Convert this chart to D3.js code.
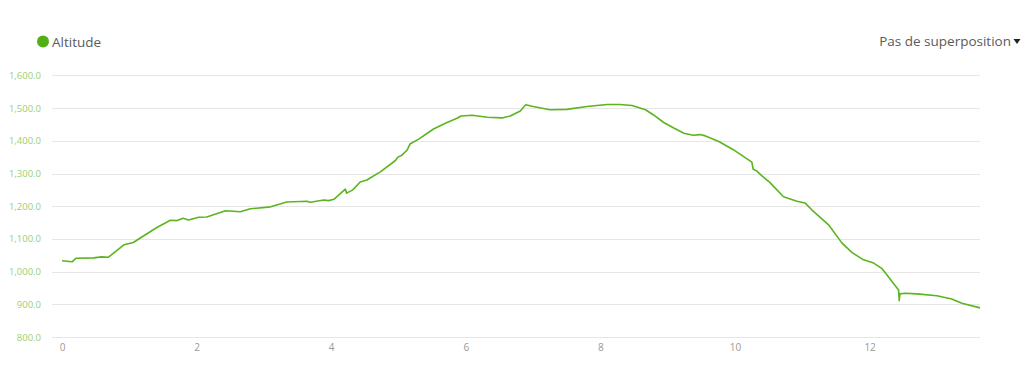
<!DOCTYPE html>
<html>
<head>
<meta charset="utf-8">
<script src="https://cdn.jsdelivr.net/npm/d3@7"></script>
<style>
  body { margin: 0; background: #fff; font-family: "Open Sans", sans-serif; }
  .grid line { stroke: #e6e6e6; stroke-width: 1px; }
  .axis text { font-family: "Open Sans", sans-serif; }
</style>
</head>
<body>
<script>
// distance (km) and altitude (m)
var distance = [0, 0.15, 0.21, 0.47, 0.59, 0.69, 0.92, 1.06, 1.21, 1.41, 1.61, 1.71, 1.80, 1.88, 2.03, 2.15,
  2.43, 2.65, 2.80, 3.10, 3.34, 3.64, 3.69, 3.89, 3.96, 4.04, 4.21, 4.23, 4.32, 4.43, 4.53, 4.73,
  4.95, 4.99, 5.05, 5.13, 5.17, 5.30, 5.52, 5.72, 5.87, 5.93, 6.09, 6.32, 6.54, 6.66, 6.81, 6.89,
  7.00, 7.25, 7.50, 7.80, 8.10, 8.29, 8.47, 8.67, 8.79, 8.94, 9.09, 9.24, 9.38, 9.48, 9.56, 9.76,
  9.98, 10.25, 10.27, 10.32, 10.40, 10.52, 10.72, 10.92, 11.04, 11.14, 11.39, 11.59, 11.74, 11.91,
  12.06, 12.18, 12.43, 12.44, 12.45, 12.53, 12.70, 13.00, 13.22, 13.37, 13.64];
var altitude = [1033, 1030, 1041, 1042, 1045, 1044, 1082, 1089, 1109, 1135, 1157, 1156, 1163, 1158, 1166, 1167,
  1186, 1183, 1192, 1198, 1213, 1215, 1212, 1219, 1217, 1221, 1252, 1240, 1250, 1274, 1280, 1305,
  1339, 1350, 1356, 1372, 1390, 1405, 1436, 1456, 1469, 1476, 1478, 1472, 1470, 1476, 1491, 1510,
  1505, 1495, 1496, 1505, 1511, 1511, 1508, 1495, 1479, 1456, 1439, 1423, 1417, 1419, 1415, 1398,
  1372, 1335, 1313, 1308, 1293, 1272, 1229, 1215, 1210, 1189, 1143, 1087, 1058, 1036,
  1026, 1010, 944, 911, 932, 934, 932, 926, 916, 903, 889];

var yTicks = [800, 900, 1000, 1100, 1200, 1300, 1400, 1500, 1600];
var xTicks = [0, 2, 4, 6, 8, 10, 12];
var seriesName = 'Altitude';
var overlayLabel = 'Pas de superposition';
var lineColor = '#5cb41f';

var width = 1024, height = 372;

var data = distance.map(function(d, i) { return { km: d, alt: altitude[i] }; });

var x = d3.scaleLinear()
  .domain([0, 13.64])
  .range([62, 980]);

var y = d3.scaleLinear()
  .domain([800, 1600])
  .range([337, 75.4]);

var line = d3.line()
  .x(function(d) { return x(d.km); })
  .y(function(d) { return y(d.alt); });

var svg = d3.select('body').append('svg')
  .attr('width', width)
  .attr('height', height);

// horizontal grid
svg.append('g')
  .attr('class', 'grid')
  .selectAll('line')
  .data(yTicks)
  .enter().append('line')
    .attr('x1', 52)
    .attr('x2', 980)
    .attr('y1', function(d) { return Math.round(y(d)) + 0.5; })
    .attr('y2', function(d) { return Math.round(y(d)) + 0.5; });

var fmt = d3.format(',.1f');

svg.append('g')
  .attr('class', 'axis axis--y')
  .attr('transform', 'translate(41,0)')
  .call(d3.axisLeft(y).tickValues(yTicks).tickFormat(fmt).tickSize(0).tickPadding(0))
  .call(function(g) { g.select('.domain').remove(); })
  .selectAll('text')
    .attr('fill', '#97cf74')
    .style('font-size', '9.5px');

svg.append('g')
  .attr('class', 'axis axis--x')
  .attr('transform', 'translate(0,344)')
  .call(d3.axisBottom(x).tickValues(xTicks).tickFormat(d3.format('d')).tickSize(0).tickPadding(0))
  .call(function(g) { g.select('.domain').remove(); })
  .selectAll('text')
    .attr('fill', '#999')
    .style('font-size', '10px');

svg.append('path')
  .datum(data)
  .attr('class', 'line')
  .attr('fill', 'none')
  .attr('stroke', lineColor)
  .attr('stroke-width', '1.6px')
  .attr('stroke-linejoin', 'round')
  .attr('d', line);

// legend
var legend = svg.append('g');
legend.append('circle')
  .attr('cx', 43)
  .attr('cy', 41.5)
  .attr('r', 6)
  .attr('fill', '#52b014');
legend.append('text')
  .attr('x', 52)
  .attr('y', 47)
  .attr('fill', '#5a5a5a')
  .style('font-size', '13.5px')
  .text(seriesName);

svg.append('text')
  .attr('x', 1011)
  .attr('y', 46)
  .attr('text-anchor', 'end')
  .attr('fill', '#5a5a5a')
  .style('font-size', '13.5px')
  .text(overlayLabel);

svg.append('path')
  .attr('d', 'M1013.5,39 L1020.5,39 L1017,44 Z')
  .attr('fill', '#222');
</script>
</body>
</html>
